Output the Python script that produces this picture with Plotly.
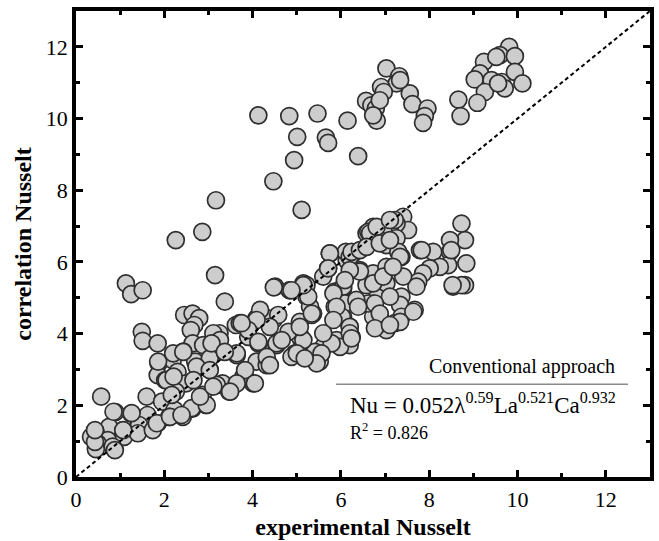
import plotly.graph_objects as go

# experimental Nusselt (x) vs correlation Nusselt (y)
exp_nu = [
    # upper scattered group
    2.26, 2.86, 3.17, 3.15, 3.37, 1.13, 1.25, 1.51, 4.13, 4.83, 5.47, 5.01, 5.66, 5.71, 4.94, 6.39, 4.47, 6.15, 5.11,
    7.03, 7.32, 7.26, 6.91, 6.97, 6.57, 6.69, 6.79, 6.88, 6.81, 6.73, 7.56, 7.62, 7.96, 7.90, 7.86, 7.34,
    8.66, 8.71, 9.24, 9.81, 9.60, 9.94, 9.15, 9.03, 9.41, 9.64, 9.94, 10.11, 9.71, 9.26, 9.09, 9.56, 9.52,
    # lower left band
    2.45, 2.64, 2.79, 2.68, 2.60, 1.49, 1.51, 1.85, 3.25, 3.62, 3.08, 2.64, 2.43, 1.87, 2.19, 1.85, 2.30, 2.70,
    3.02, 2.02, 2.49, 2.26, 3.32, 3.47, 2.87, 1.60, 0.57, 1.95, 2.23, 2.64, 2.94, 1.25, 0.89, 1.62, 1.85, 1.43,
    1.06, 0.75, 0.45, 0.72, 1.09, 1.40, 1.74, 2.11, 2.42, 0.49, 0.83, 0.34, 0.45, 0.43, 0.88, 1.07, 1.26, 0.85,
    0.43, 1.83, 2.13, 2.62, 2.96, 2.39, 3.49, 4.01, 3.79, 4.09, 4.32, 3.64, 4.13, 4.54, 3.90, 3.71, 4.09, 4.47,
    4.51, 4.84, 5.15, 5.07, 5.11, 5.37, 5.49, 4.96, 3.11, 2.88, 3.03, 2.20, 2.43, 1.86, 2.05, 2.17, 2.21, 2.73,
    2.81, 3.19, 2.66,
    # middle band
    5.75, 5.71, 5.60, 5.22, 4.84, 4.48, 5.22, 5.30, 5.34, 5.07, 5.07, 5.07, 5.30, 5.52, 5.86, 6.05, 5.86, 6.05,
    6.20, 6.24, 5.79, 5.60, 5.41, 4.32, 4.17, 4.58, 4.39, 4.09, 3.90, 3.75, 4.13, 4.54, 4.81, 4.32, 4.39, 3.64,
    3.83, 3.26, 3.07, 3.37, 3.03, 3.64, 4.05, 3.49, 3.11, 4.66, 4.88,
    # right band
    7.41, 7.52, 7.26, 7.11, 6.96, 6.73, 6.58, 6.81, 7.26, 7.03, 8.73, 8.81, 8.47, 8.47, 8.09, 7.79, 8.84, 8.43,
    8.24, 8.01, 7.86, 7.75, 7.71, 8.54, 8.81, 7.37, 7.30, 7.41, 7.37, 7.34, 7.67, 7.37, 7.22, 6.92, 6.88, 6.73,
    7.03, 6.43, 6.43, 6.28, 6.13, 6.05, 6.09, 6.02, 6.24, 6.20, 6.73, 7.03, 6.81, 7.03, 7.11, 6.73, 6.58,
    8.73, 8.53, 7.64, 7.34, 6.92, 6.20, 6.20, 5.90, 6.62, 6.35, 8.50, 7.83, 7.22, 6.62, 6.88, 6.11, 6.20, 7.34,
    # dense core
    5.75, 5.71, 6.24, 6.43, 6.66, 6.81, 7.11, 6.58, 6.88, 7.11, 6.43, 6.73, 6.96, 7.18, 6.20, 6.09, 5.83, 5.90,
    6.39, 6.77, 6.88, 6.77, 7.11, 6.20, 5.83, 5.98, 6.24, 5.79, 5.60, 5.56, 5.45, 5.15, 5.07, 5.34, 5.26, 5.15,
    4.88, 5.00, 5.18,
]
corr_nu = [
    6.61, 6.84, 7.72, 5.63, 4.89, 5.40, 5.10, 5.21, 10.09, 10.07, 10.14, 9.49, 9.47, 9.32, 8.84, 8.95, 8.25, 9.94, 7.45,
    11.40, 11.18, 10.98, 10.88, 10.74, 10.49, 10.37, 10.28, 10.51, 9.94, 10.09, 10.70, 10.40, 10.28, 10.07, 9.88, 11.07,
    10.53, 10.07, 11.58, 12.00, 11.77, 11.74, 11.26, 11.09, 11.07, 11.02, 11.30, 10.98, 10.84, 10.74, 10.44, 10.98, 11.72,
    4.52, 4.56, 4.43, 4.24, 4.10, 4.05, 3.80, 3.73, 4.01, 4.24, 3.78, 3.73, 3.50, 3.17, 3.26, 2.84, 2.93, 3.22,
    3.00, 2.70, 2.61, 2.38, 2.61, 2.38, 2.29, 2.24, 2.24, 2.10, 1.87, 1.91, 2.01, 1.77, 1.81, 1.73, 1.50, 1.45,
    1.31, 1.40, 1.22, 1.03, 1.12, 1.22, 1.31, 1.68, 1.68, 0.94, 0.85, 1.12, 0.78, 0.98, 0.75, 1.31, 1.78, 1.82,
    1.31, 1.50, 1.68, 1.92, 2.01, 1.73, 2.38, 2.61, 2.80, 3.22, 3.12, 3.40, 3.73, 3.68, 3.91, 4.29, 4.43, 4.38,
    5.31, 5.21, 5.40, 3.96, 3.80, 4.56, 3.35, 3.45, 4.01, 3.68, 3.31, 3.45, 3.49, 3.22, 2.70, 2.29, 2.80, 3.08,
    2.24, 2.57, 2.70,
    6.24, 5.82, 5.59, 5.35, 5.21, 5.29, 5.03, 4.75, 4.52, 4.33, 3.91, 3.40, 3.35, 3.22, 5.17, 5.26, 4.75, 4.47,
    4.19, 3.91, 3.77, 3.63, 3.49, 4.43, 4.66, 4.52, 4.19, 4.38, 4.10, 4.29, 3.77, 3.73, 4.05, 3.35, 3.12, 3.45,
    2.98, 3.82, 3.73, 3.49, 2.98, 2.61, 2.61, 2.38, 2.52, 3.82, 3.35,
    7.26, 6.89, 7.07, 6.98, 6.89, 6.98, 6.80, 6.61, 6.66, 6.47, 7.07, 6.61, 6.61, 6.28, 6.28, 6.33, 5.96, 5.91,
    5.86, 5.82, 5.68, 5.45, 5.31, 5.31, 5.35, 6.14, 6.28, 5.59, 5.03, 4.80, 4.66, 4.47, 4.29, 4.24, 4.52, 4.47,
    4.10, 4.80, 5.77, 6.24, 6.05, 5.31, 4.84, 4.47, 3.91, 4.19, 5.68, 5.86, 5.21, 5.40, 5.03, 4.84, 5.35,
    5.35, 5.35, 4.61, 4.33, 4.29, 3.96, 3.68, 3.82, 4.84, 4.94, 6.33, 6.33, 7.17, 6.84, 6.61, 6.28, 6.14, 6.14,
    6.24, 5.82, 6.28, 6.33, 6.80, 6.98, 7.17, 6.42, 6.52, 6.61, 5.73, 5.40, 5.59, 5.86, 5.77, 5.49, 5.12, 4.75,
    4.75, 4.84, 4.56, 4.15, 4.24, 4.01, 4.38, 3.63, 3.87, 3.73, 4.01, 3.45, 3.17, 3.82, 4.19, 4.56, 5.03, 5.35,
    5.21, 3.45, 3.31,
]

axis_range = [0, 13]
tick_step = 2
line_end = 13

serif = "Liberation Serif, Times New Roman, serif"

fig = go.Figure()
fig.add_trace(go.Scatter(
    x=exp_nu, y=corr_nu, mode="markers",
    marker=dict(size=17, color="#cdcdcd", line=dict(color="#2e2e2e", width=1.7)),
    showlegend=False, hoverinfo="skip",
))

axis_common = dict(
    range=axis_range, dtick=tick_step, tick0=0, automargin=False,
    showline=True, linecolor="black", linewidth=3.5, mirror="ticks",
    ticks="inside", ticklen=7, tickwidth=3, tickcolor="black",
    minor=dict(dtick=1, ticks="inside", ticklen=4, tickwidth=3, tickcolor="black"),
    showgrid=False, zeroline=False,
    tickfont=dict(family=serif, size=22, color="black"),
    title_font=dict(family=serif, size=24, color="black"),
)

fig.update_xaxes(**axis_common, title_text="<b>experimental Nusselt</b>", title_standoff=8)
fig.update_yaxes(**axis_common, title_text="<b>correlation Nusselt</b>", title_standoff=8)

# diagonal y = x
fig.add_shape(type="line", x0=0, y0=0, x1=line_end, y1=line_end, xref="x", yref="y",
              line=dict(color="black", width=2, dash="4px,3px"), layer="above")
# rule below header
fig.add_shape(type="line", x0=5.89, y0=2.59, x1=12.5, y1=2.59, xref="x", yref="y",
              line=dict(color="#8a8a8a", width=1.5))

fig.add_annotation(x=12.25, y=3.07, xref="x", yref="y", xanchor="right", yanchor="middle",
                   text="Conventional approach", showarrow=False,
                   font=dict(family=serif, size=20, color="black"))
fig.add_annotation(x=6.15, y=2.04, xref="x", yref="y", xanchor="left", yanchor="middle",
                   text="Nu = 0.052λ<sup>0.59</sup>La<sup>0.521</sup>Ca<sup>0.932</sup>", showarrow=False,
                   font=dict(family=serif, size=23, color="black"))
fig.add_annotation(x=6.15, y=1.26, xref="x", yref="y", xanchor="left", yanchor="middle",
                   text="R<sup>2</sup> = 0.826", showarrow=False,
                   font=dict(family=serif, size=18, color="black"))

fig.update_layout(
    width=659, height=541,
    margin=dict(l=76, r=9, t=11, b=64),
    paper_bgcolor="white", plot_bgcolor="white",
)

fig.write_html("out.html")
